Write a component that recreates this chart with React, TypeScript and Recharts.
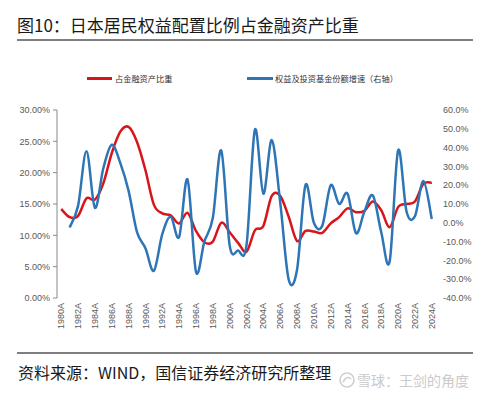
import React from 'react';
import { LineChart, Line, XAxis, YAxis } from 'recharts';

const yearLabels = [
  '1980A','1981A','1982A','1983A','1984A','1985A','1986A','1987A','1988A','1989A',
  '1990A','1991A','1992A','1993A','1994A','1995A','1996A','1997A','1998A','1999A',
  '2000A','2001A','2002A','2003A','2004A','2005A','2006A','2007A','2008A','2009A',
  '2010A','2011A','2012A','2013A','2014A','2015A','2016A','2017A','2018A','2019A',
  '2020A','2021A','2022A','2023A','2024A',
];

// 占金融资产比重 (%), left axis
const equityShare = [
  14.2, 12.9, 13.1, 15.9, 15.7, 18.3, 23.1, 26.5, 27.3, 24.9,
  20.4, 14.9, 13.5, 13.2, 11.9, 13.6, 10.7, 8.9, 9.0, 12.0,
  10.5, 8.8, 7.4, 10.8, 11.5, 16.3, 16.3, 13.0, 9.1, 10.7,
  10.6, 10.4, 11.9, 12.9, 14.3, 13.7, 13.9, 15.4, 14.0, 11.3,
  14.5, 15.0, 15.4, 18.2, 18.4,
];

// 权益及投资基金份额增速 (%), right axis
const fundGrowth: (number | null)[] = [
  null, -2.5, 9, 38, 8, 29, 41.5, 32, 17, -5,
  -13.5, -25.5, -6, 3.2, -7.5, 23, -26, -10, 2.5, 38.5,
  -12, -14.8, -12, 49.5, 15.5, 44, 11, -30, -25, 20,
  0, -1.5, 20, 10, 15.5, -5.5, 6, 14.5, -5, -20.5,
  38.5, 6, 3.5, 22.2, 2,
];

const leftTicks = [0, 5, 10, 15, 20, 25, 30];
const rightTicks = [-40, -30, -20, -10, 0, 10, 20, 30, 40, 50, 60];
const labelTicks = yearLabels.map((_, i) => i).filter((i) => i % 2 === 0);
const boundaryTicks = [...yearLabels.map((_, i) => i - 0.5), yearLabels.length - 0.5];

const data = yearLabels.map((label, idx) => ({
  idx,
  label,
  share: equityShare[idx],
  growth: fundGrowth[idx],
}));

const RED = '#d9151c';
const BLUE = '#2e75b6';
const AXIS = '#8a8a8a';
const TICK_TEXT = '#595959';
const CJK = '"Noto Sans CJK SC", "Noto Sans", sans-serif';
const LATIN = '"Liberation Sans", Arial, sans-serif';

// Excel-like smoothed line (Catmull-Rom)
const smoothCurve = (context: any) => {
  let pts: [number, number][] = [];
  return {
    areaStart() {},
    areaEnd() {},
    lineStart() {
      pts = [];
    },
    point(x: number, y: number) {
      pts.push([+x, +y]);
    },
    lineEnd() {
      if (!pts.length) return;
      context.moveTo(pts[0][0], pts[0][1]);
      for (let i = 0; i < pts.length - 1; i++) {
        const p0 = pts[i - 1] || pts[i];
        const p1 = pts[i];
        const p2 = pts[i + 1];
        const p3 = pts[i + 2] || p2;
        const t = 1 / 6;
        context.bezierCurveTo(
          p1[0] + (p2[0] - p0[0]) * t,
          p1[1] + (p2[1] - p0[1]) * t,
          p2[0] - (p3[0] - p1[0]) * t,
          p2[1] - (p3[1] - p1[1]) * t,
          p2[0],
          p2[1]
        );
      }
    },
  };
};

const YearTick = (props: any) => {
  const { x, y, payload } = props;
  const label = yearLabels[payload.value] ?? '';
  return (
    <text
      x={x}
      y={y}
      transform={`rotate(-90, ${x}, ${y})`}
      textAnchor="end"
      dy="0.35em"
      fontSize={9}
      fontFamily={LATIN}
      fill={TICK_TEXT}
    >
      {label}
    </text>
  );
};

export default function App() {
  return (
    <div
      style={{
        position: 'absolute',
        left: 0,
        top: 0,
        width: 485,
        height: 396,
        background: '#fff',
        overflow: 'hidden',
      }}
    >
      <div
        style={{
          position: 'absolute',
          left: 17,
          top: 15,
          fontFamily: CJK,
          fontSize: 17,
          lineHeight: '20px',
          color: '#1a1a1a',
          whiteSpace: 'nowrap',
        }}
      >
        图10：日本居民权益配置比例占金融资产比重
      </div>
      <div style={{ position: 'absolute', left: 17, top: 39, width: 456, height: 2, background: '#7f7f7f' }} />

      <LineChart
        width={485}
        height={396}
        data={data}
        margin={{ top: 110, right: 0, bottom: 58, left: 0 }}
        style={{ position: 'absolute', left: 0, top: 0 }}
      >
        <XAxis
          xAxisId="bounds"
          dataKey="idx"
          type="number"
          domain={[-0.5, yearLabels.length - 0.5]}
          allowDataOverflow
          ticks={boundaryTicks}
          tick={false}
          tickSize={4}
          height={0}
          axisLine={{ stroke: AXIS, strokeWidth: 1 }}
          tickLine={{ stroke: AXIS, strokeWidth: 1 }}
          interval={0}
        />
        <XAxis
          xAxisId="main"
          dataKey="idx"
          type="number"
          domain={[-0.5, yearLabels.length - 0.5]}
          allowDataOverflow
          ticks={labelTicks}
          interval={0}
          tick={<YearTick />}
          tickSize={0}
          tickMargin={5}
          axisLine={false}
          tickLine={false}
          height={40}
        />
        <YAxis
          yAxisId="left"
          orientation="left"
          width={57}
          domain={[0, 30]}
          ticks={leftTicks}
          interval={0}
          tickFormatter={(v: number) => `${v.toFixed(2)}%`}
          tick={{ fontSize: 9, fontFamily: LATIN, fill: TICK_TEXT }}
          tickSize={4}
          tickMargin={3}
          axisLine={{ stroke: AXIS, strokeWidth: 1 }}
          tickLine={{ stroke: AXIS, strokeWidth: 1 }}
        />
        <YAxis
          yAxisId="right"
          orientation="right"
          width={49}
          domain={[-40, 60]}
          ticks={rightTicks}
          interval={0}
          tickFormatter={(v: number) => `${v.toFixed(1)}%`}
          tick={{ fontSize: 9, fontFamily: LATIN, fill: TICK_TEXT }}
          tickSize={4}
          tickMargin={3}
          axisLine={false}
          tickLine={false}
        />
        <Line
          xAxisId="main"
          yAxisId="left"
          dataKey="share"
          type={smoothCurve as any}
          stroke={RED}
          strokeWidth={2.5}
          dot={false}
          activeDot={false}
          isAnimationActive={false}
        />
        <Line
          xAxisId="main"
          yAxisId="right"
          dataKey="growth"
          type={smoothCurve as any}
          stroke={BLUE}
          strokeWidth={2.5}
          dot={false}
          activeDot={false}
          isAnimationActive={false}
        />
      </LineChart>

      {/* legend */}
      <div style={{ position: 'absolute', left: 87, top: 77, width: 25, height: 2.5, background: RED }} />
      <div
        style={{
          position: 'absolute',
          left: 115,
          top: 72,
          fontFamily: CJK,
          fontSize: 8.2,
          lineHeight: '12px',
          color: '#333',
          whiteSpace: 'nowrap',
        }}
      >
        占金融资产比重
      </div>
      <div style={{ position: 'absolute', left: 247, top: 77, width: 26, height: 2.5, background: BLUE }} />
      <div
        style={{
          position: 'absolute',
          left: 275,
          top: 72,
          fontFamily: CJK,
          fontSize: 8.2,
          lineHeight: '12px',
          color: '#333',
          whiteSpace: 'nowrap',
        }}
      >
        权益及投资基金份额增速（右轴）
      </div>

      {/* footer */}
      <div style={{ position: 'absolute', left: 17, top: 352, width: 456, height: 2, background: '#7f7f7f' }} />
      <div
        style={{
          position: 'absolute',
          left: 18,
          top: 362,
          fontFamily: CJK,
          fontSize: 16,
          lineHeight: '20px',
          color: '#1a1a1a',
          whiteSpace: 'nowrap',
        }}
      >
        资料来源：WIND，国信证券经济研究所整理
      </div>
      <svg style={{ position: 'absolute', left: 338, top: 371 }} width={18} height={18}>
        <circle cx={9} cy={9} r={7} fill="none" stroke="#cfcfcf" strokeWidth={1.6} />
        <path d="M5 11 Q9 4 13 8" fill="none" stroke="#cfcfcf" strokeWidth={1.6} />
      </svg>
      <div
        style={{
          position: 'absolute',
          left: 357,
          top: 370,
          fontFamily: CJK,
          fontSize: 14,
          lineHeight: '20px',
          color: '#cacaca',
          whiteSpace: 'nowrap',
        }}
      >
        雪球：王剑的角度
      </div>
    </div>
  );
}
